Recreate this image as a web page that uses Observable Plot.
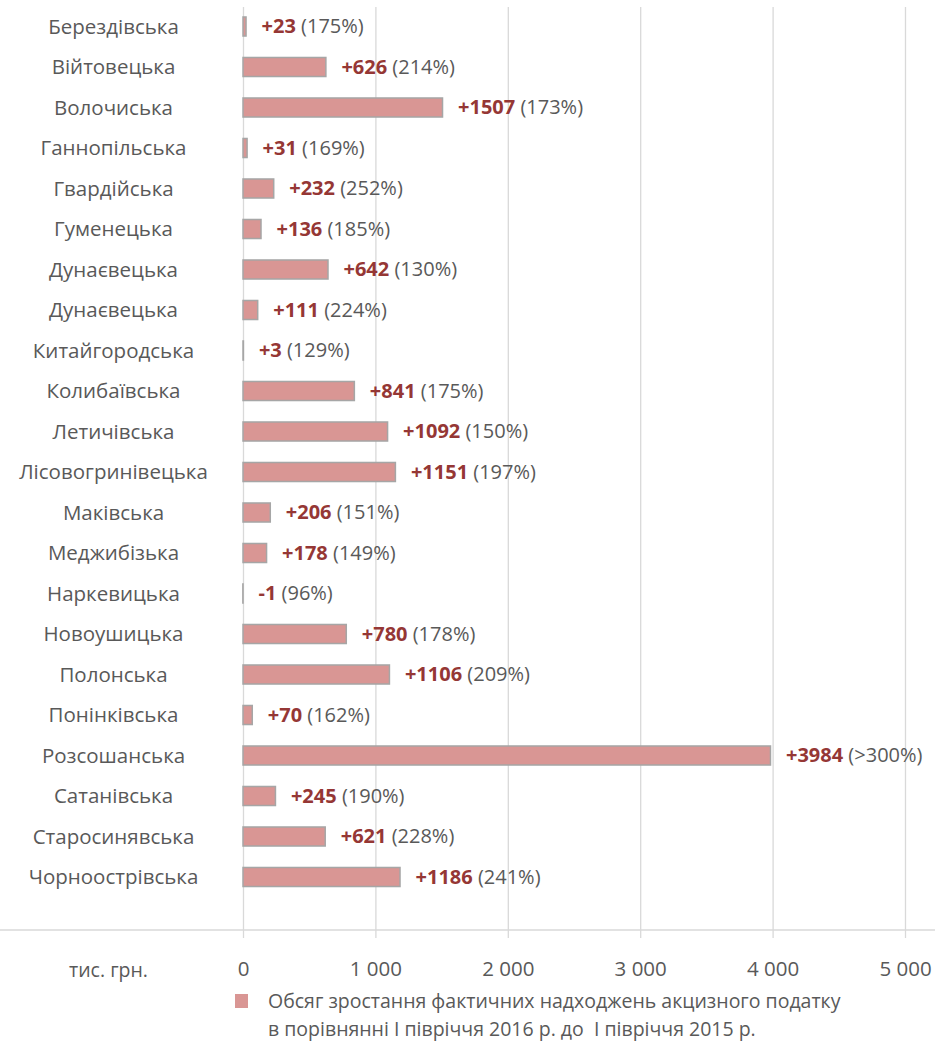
<!DOCTYPE html>
<html>
<head>
<meta charset="utf-8">
<script src="https://cdn.jsdelivr.net/npm/d3@7"></script>
<script src="https://cdn.jsdelivr.net/npm/@observablehq/plot@0.6"></script>
<style>
  html, body { margin: 0; padding: 0; background: #fff; }
  #chart svg { display: block; }
  .legend { font-family: "Open Sans", sans-serif; font-size: 19.5px; color: #595959; position: relative; margin-left: 235px; line-height: 28px; margin-top: -3px; }
  .legend .sw { position: absolute; left: 0; top: 7px; width: 13px; height: 14px; background: #d99694; }
  .legend .tx { margin-left: 33px; }
</style>
</head>
<body>
<div id="chart"></div>
<div class="legend"><span class="sw"></span><div class="tx">Обсяг зростання фактичних надходжень акцизного податку<br>в порівнянні І півріччя 2016 р. до&nbsp; І півріччя 2015 р.</div></div>
<script>
const names = ["Берездівська","Війтовецька","Волочиська","Ганнопільська","Гвардійська","Гуменецька","Дунаєвецька","Дунаєвецька","Китайгородська","Колибаївська","Летичівська","Лісовогринівецька","Маківська","Меджибізька","Наркевицька","Новоушицька","Полонська","Понінківська","Розсошанська","Сатанівська","Старосинявська","Чорноострівська"];
const values = [23,626,1507,31,232,136,642,111,3,841,1092,1151,206,178,-1,780,1106,70,3984,245,621,1186];
const pcts = ["175%","214%","173%","169%","252%","185%","130%","224%","129%","175%","150%","197%","151%","149%","96%","178%","209%","162%",">300%","190%","228%","241%"];
const xTicks = [0,1000,2000,3000,4000,5000];
const unitLabel = "тис. грн.";

const data = names.map((n, i) => ({i, name: n, value: values[i], pct: pcts[i], label: (values[i] > 0 ? "+" : "") + values[i]}));
const fmt = d => d3.format(",")(d).replace(/,/g, " ");

const chart = Plot.plot({
  width: 941, height: 990,
  marginLeft: 243, marginRight: 36, marginTop: 7, marginBottom: 60,
  style: {fontFamily: "'Open Sans', sans-serif", background: "#fff"},
  x: {domain: [0, 5000], label: null},
  y: {type: "band", domain: d3.range(names.length), range: [6.25, 897.25], round: false, paddingInner: 0.53, paddingOuter: 0.265, axis: null},
  marks: [
    Plot.gridX(xTicks, {stroke: "#d9d9d9", strokeOpacity: 1, strokeWidth: 1.3}),
    Plot.axisX(xTicks, {tickSize: 8, tickPadding: 23, stroke: "#d9d9d9", strokeWidth: 1.3, fill: "#595959", fontSize: 20.5, tickFormat: fmt, label: null}),
    Plot.barX(data, {x1: 0, x2: "value", y: "i", fill: "#d99694", stroke: "#a6a6a6", strokeWidth: 1.5}),
    Plot.text(data, {y: "i", text: "name", frameAnchor: "left", dx: -130, textAnchor: "middle", fontSize: 20.5, fill: "#595959"}),
    Plot.text(data, {x: d => Math.max(0, d.value), y: "i", text: d => d.label + "|" + d.pct, dx: 15, textAnchor: "start", fontSize: 20, className: "vlabel"}),
    Plot.text([unitLabel], {frameAnchor: "bottom-left", dx: -135, dy: 46, textAnchor: "middle", fontSize: 19.5, fill: "#595959"})
  ]
});

const svg = d3.select(chart);
svg.insert("line", ":first-child")
  .attr("x1", 0).attr("x2", 935).attr("y1", 930).attr("y2", 930)
  .attr("stroke", "#d9d9d9").attr("stroke-width", 1.5);
svg.selectAll(".vlabel text").each(function() {
  const [a, b] = this.textContent.split("|");
  const t = d3.select(this);
  t.text(null);
  t.append("tspan").attr("font-weight", "bold").attr("fill", "#953735").text(a);
  t.append("tspan").attr("fill", "#595959").text(" (" + b + ")");
});
document.getElementById("chart").appendChild(chart);
</script>
</body>
</html>
